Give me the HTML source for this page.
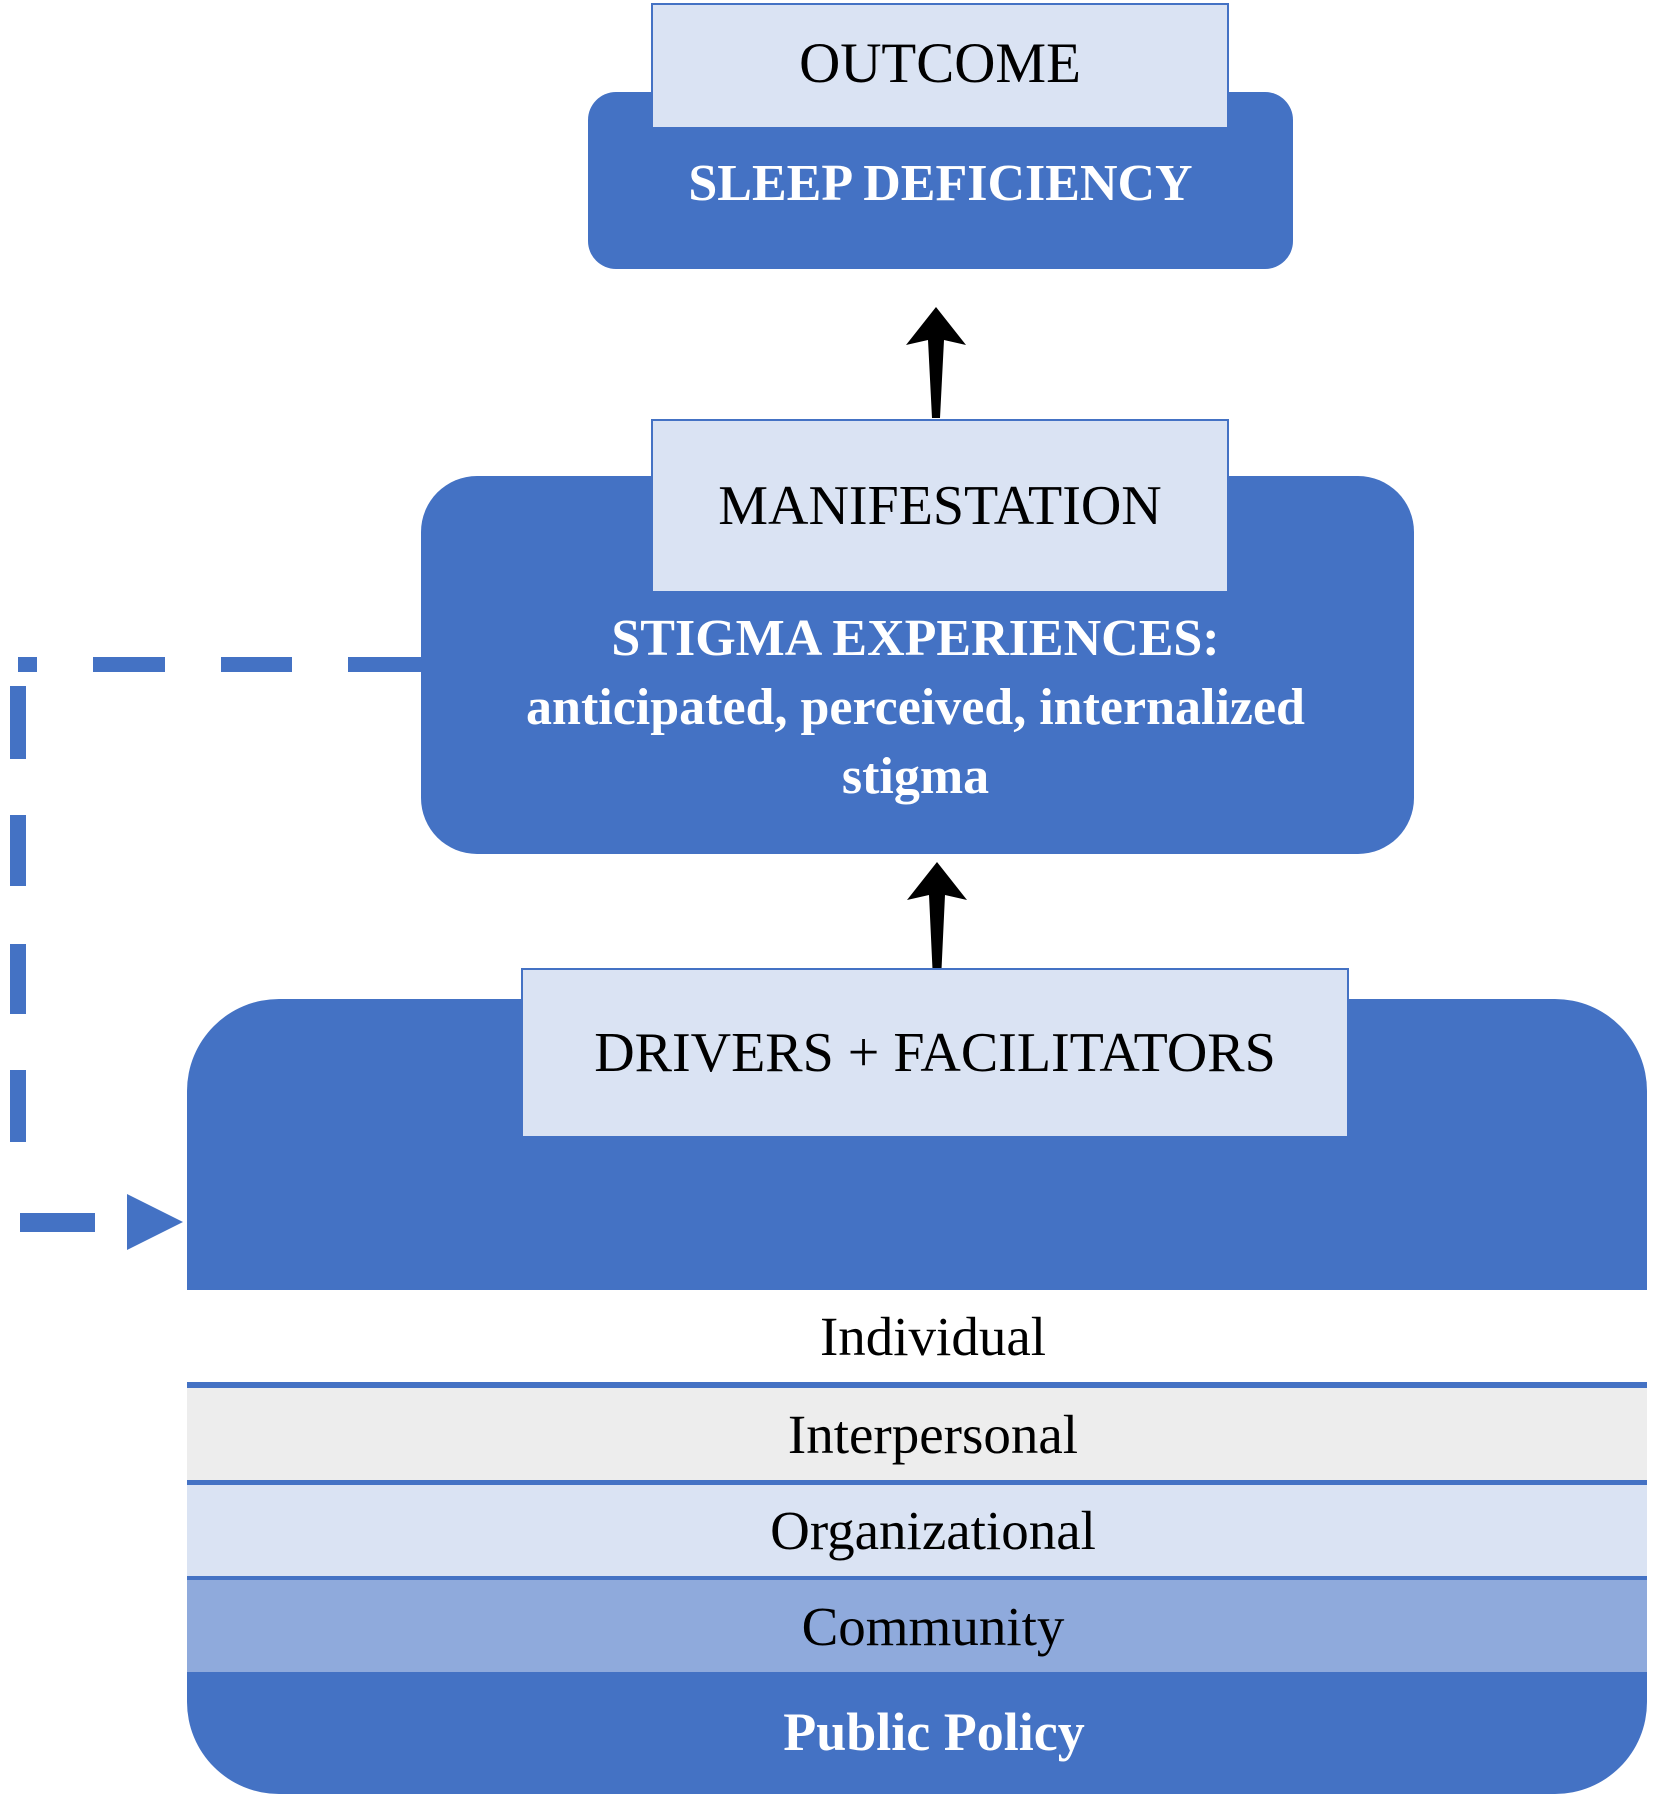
<!DOCTYPE html>
<html><head><meta charset="utf-8"><style>
body{margin:0;width:1655px;height:1800px;background:#fff;position:relative;overflow:hidden;font-family:"Liberation Serif",serif;}
div{position:absolute;box-sizing:border-box;}
.t{display:flex;align-items:center;justify-content:center;text-align:center;}
.lt{background:#dae3f3;border:2px solid #4472c4;color:#000;font-size:56px;}
.bl{background:#4472c4;}
.w{color:#fff;font-weight:bold;}
.band{left:187px;width:1460px;border-top:2px solid #4472c4;border-bottom:2px solid #4472c4;font-size:55px;color:#000;padding-left:32px;}
</style></head><body>
<svg width="1655" height="1800" style="position:absolute;left:0;top:0">
<g fill="#4472c4">
<rect x="18" y="657" width="19" height="15"/>
<rect x="93" y="657" width="72" height="15"/>
<rect x="221" y="657" width="71" height="15"/>
<rect x="348" y="657" width="75" height="15"/>
<rect x="10" y="686" width="16" height="73"/>
<rect x="10" y="815" width="16" height="71"/>
<rect x="10" y="944" width="16" height="70"/>
<rect x="10" y="1070" width="16" height="72"/>
<rect x="20" y="1213" width="75" height="19"/>
<polygon points="127,1194 183,1222 127,1250"/>
</g>
<g fill="#000">
<polygon points="936,307 966,345 944,340 940,418 932,418 928,340 906,345"/>
<polygon points="937,862 967,900 945,895 941,980 933,980 929,895 907,900"/>
</g>
</svg>

<div class="bl" style="left:588px;top:92px;width:705px;height:177px;border-radius:28px;"></div>
<div class="t lt" style="left:651px;top:3px;width:578px;height:126px;padding-bottom:6px;font-size:57px;">OUTCOME</div>
<div class="t w" style="left:588px;top:150px;width:705px;height:66px;font-size:52px;">SLEEP DEFICIENCY</div>

<div class="bl" style="left:421px;top:476px;width:993px;height:378px;border-radius:56px;"></div>
<div class="t lt" style="left:651px;top:419px;width:578px;height:174px;">MANIFESTATION</div>
<div class="w" style="left:421px;top:604px;width:989px;text-align:center;font-size:52px;line-height:69px;">STIGMA EXPERIENCES:<br>anticipated, perceived, internalized<br>stigma</div>

<div class="bl" style="left:187px;top:999px;width:1460px;height:795px;border-radius:92px;overflow:hidden;">
</div>
<div class="t lt" style="left:521px;top:968px;width:828px;height:170px;">DRIVERS + FACILITATORS</div>

<div class="t band" style="top:1288px;height:96px;background:#fff;">Individual</div>
<div class="t band" style="top:1386px;height:96px;background:#ededed;">Interpersonal</div>
<div class="t band" style="top:1483px;height:95px;background:#dae3f3;">Organizational</div>
<div class="t band" style="top:1578px;height:96px;background:#8faadc;">Community</div>
<div class="t w" style="left:187px;top:1700px;width:1460px;height:64px;font-size:54px;padding-left:34px;">Public Policy</div>
</body></html>
